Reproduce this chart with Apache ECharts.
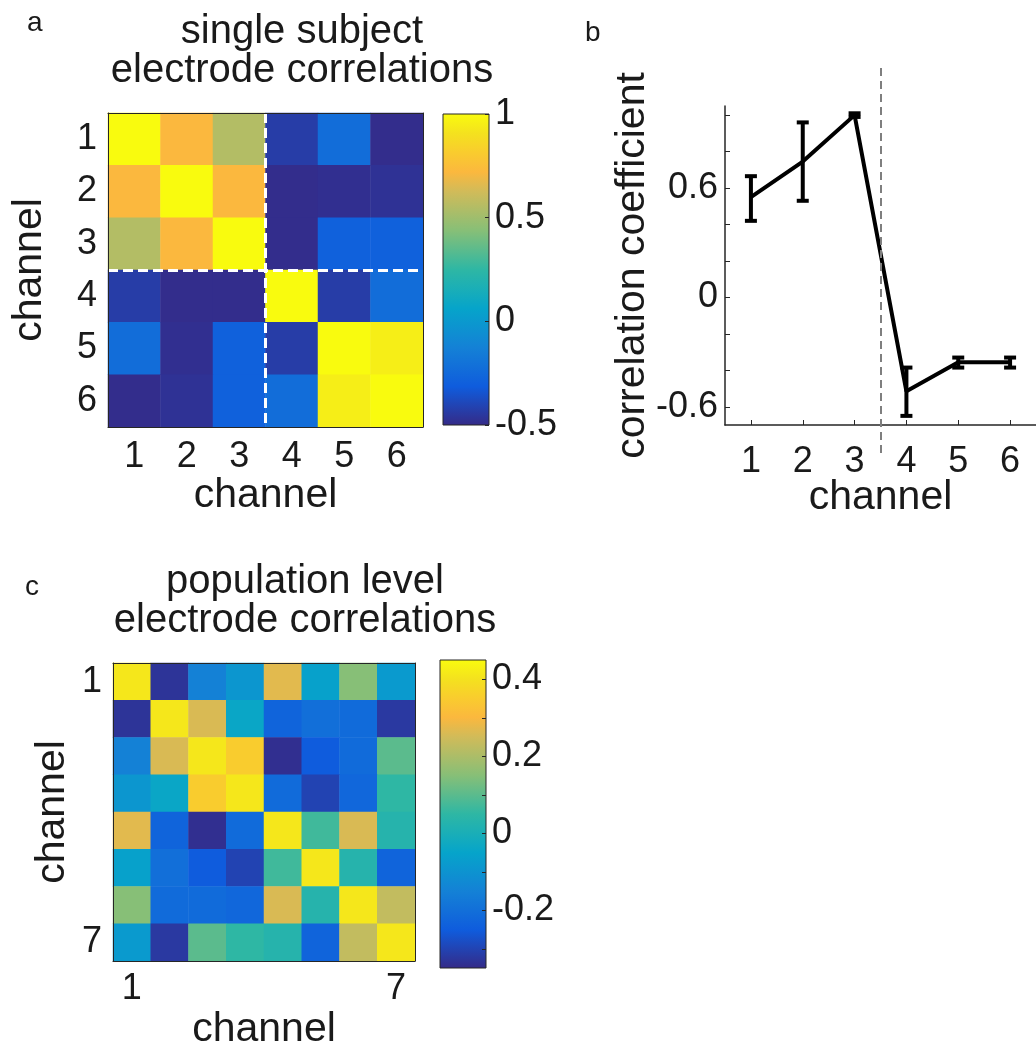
<!DOCTYPE html>
<html>
<head>
<meta charset="utf-8">
<title>electrode correlations</title>
<script src="https://cdn.jsdelivr.net/npm/echarts@6/dist/echarts.min.js"></script>
<style>
  html, body { margin: 0; padding: 0; background: #fff; }
  #main { width: 1036px; height: 1051px; }
</style>
</head>
<body>
<div id="main"></div>
<script>
// channels
var chan6 = ['1', '2', '3', '4', '5', '6'];
var chan8 = ['1', '2', '3', '4', '5', '6', '7', '8'];
var chan8Labels = ['1', '', '', '', '', '', '', '7'];

// a: single subject correlation matrix (row 1 on top)
var singleCorr = [
  [1.00, 0.72, 0.55, -0.43, -0.23, -0.49],
  [0.72, 1.00, 0.72, -0.49, -0.48, -0.47],
  [0.55, 0.72, 1.00, -0.49, -0.29, -0.29],
  [-0.43, -0.49, -0.49, 1.00, -0.43, -0.23],
  [-0.23, -0.48, -0.29, -0.43, 1.00, 0.95],
  [-0.49, -0.47, -0.29, -0.23, 0.95, 1.00]
];
var groupSplit = [3.5];

// b: mean correlation per channel with error bars
var bChannels = [1, 2, 3, 4, 5, 6];
var bMean = [0.55, 0.745, 1.00, -0.515, -0.356, -0.356];
var bLow = [0.42, 0.53, 0.99, -0.65, -0.385, -0.385];
var bHigh = [0.665, 0.96, 1.01, -0.385, -0.33, -0.33];
var bYTicks = [-0.6, -0.4, -0.2, 0, 0.2, 0.4, 0.6, 0.8, 1.0];
var bYLabels = [-0.6, 0, 0.6];

// c: population level correlation matrix
var popCorr = [
  [0.41, -0.33, -0.15, -0.09, 0.27, -0.06, 0.15, -0.08],
  [-0.33, 0.41, 0.26, -0.04, -0.23, -0.20, -0.21, -0.32],
  [-0.15, 0.26, 0.41, 0.35, -0.34, -0.25, -0.21, 0.10],
  [-0.09, -0.04, 0.35, 0.41, -0.21, -0.30, -0.22, 0.05],
  [0.27, -0.23, -0.34, -0.21, 0.41, 0.07, 0.26, 0.03],
  [-0.06, -0.20, -0.25, -0.30, 0.07, 0.41, 0.03, -0.23],
  [0.15, -0.21, -0.21, -0.22, 0.26, 0.03, 0.41, 0.23],
  [-0.08, -0.32, 0.10, 0.05, 0.03, -0.23, 0.23, 0.41]
];

// colorbars
var barATicks = [-0.5, 0, 0.5, 1];
var barCRange = [-0.35, 0.45];
var barCTicks = [-0.3, -0.2, -0.1, 0, 0.1, 0.2, 0.3, 0.4];
var barCLabels = [-0.2, 0, 0.2, 0.4];

// parula-like colormap, evenly spaced stops
var parula = ['#352a87', '#2243b2', '#0f5cdd', '#126fd9', '#1481d6', '#0d93d0', '#06a4ca', '#1aaeb7',
  '#2eb7a4', '#5bbb8d', '#87bf77', '#acbd68', '#d1bb59', '#fbb83e', '#f9cc2e', '#f4e21e', '#f9fb0e'];

var FONT = "'Liberation Sans', Arial, sans-serif";
var INK = '#1a1a1a';
var EDGE = '#262626';

function toCells(m) {
  var out = [];
  m.forEach(function (row, r) {
    row.forEach(function (v, c) { out.push([c, r, v]); });
  });
  return out;
}

function barGradient() {
  return new echarts.graphic.LinearGradient(0, 1, 0, 0, parula.map(function (c, i) {
    return { offset: i / (parula.length - 1), color: c };
  }));
}

function labelStyle(extra) {
  var s = { color: INK, fontFamily: FONT, fontSize: 36 };
  for (var k in extra) s[k] = extra[k];
  return s;
}

var lineStyleEdge = { show: true, onZero: false, lineStyle: { color: EDGE, width: 1 } };
var nameStyle = { color: INK, fontFamily: FONT, fontSize: 41 };
var letterStyle = { color: INK, fontFamily: FONT, fontSize: 28, fontWeight: 'normal' };
var titleStyle = { color: INK, fontFamily: FONT, fontSize: 40, fontWeight: 'normal', lineHeight: 39 };

// category axis for a heatmap box (ticks inside on all sides)
function catAxis(grid, cats, pos, showLabel, extra) {
  var ax = {
    type: 'category', gridIndex: grid, data: cats, position: pos, z: 5,
    axisLine: lineStyleEdge,
    axisTick: { inside: true, length: 4, alignWithLabel: true, lineStyle: { color: EDGE, width: 1 } },
    axisLabel: labelStyle({ show: showLabel }),
    splitLine: { show: false }, splitArea: { show: false }
  };
  for (var k in extra) ax[k] = extra[k];
  return ax;
}

function hiddenValue(grid, min, max, extra) {
  var ax = { type: 'value', gridIndex: grid, min: min, max: max, show: false };
  for (var k in extra) ax[k] = extra[k];
  return ax;
}

function init() {
  var chart = echarts.init(document.getElementById('main'), null, { renderer: 'canvas' });

  var option = {
    backgroundColor: '#fff',
    animation: false,
    title: [
      { text: 'a', left: 22, top: 4, textStyle: letterStyle },
      { text: 'b', left: 580, top: 14, textStyle: letterStyle },
      { text: 'c', left: 20, top: 568, textStyle: letterStyle },
      { text: 'single subject\nelectrode correlations', left: 297, top: 7, textAlign: 'center', textStyle: titleStyle },
      { text: 'population level\nelectrode correlations', left: 300, top: 557, textAlign: 'center', textStyle: titleStyle }
    ],
    grid: [
      { left: 108, top: 113, width: 315, height: 314 },
      { left: 108, top: 113, width: 315, height: 314 },
      { left: 443, top: 114, width: 46, height: 311, show: true, borderColor: EDGE, borderWidth: 1, backgroundColor: barGradient() },
      { left: 725, top: 106, width: 318, height: 319 },
      { left: 725, top: 65, width: 318, height: 388 },
      { left: 113, top: 663, width: 302, height: 305 },
      { left: 440, top: 660, width: 46, height: 308, show: true, borderColor: EDGE, borderWidth: 1, backgroundColor: barGradient() }
    ],
    xAxis: [
      catAxis(0, chan6, 'bottom', true, {
        name: 'channel', nameLocation: 'middle', nameGap: 48, nameTextStyle: nameStyle, nameMoveOverlap: false,
        axisLabel: labelStyle({ margin: 12 })
      }),
      catAxis(0, chan6, 'top', false),
      hiddenValue(1, 0.5, chan6.length + 0.5),
      hiddenValue(2, 0, 1),
      {
        type: 'value', gridIndex: 3, min: 0.5, max: 6.5, position: 'bottom',
        name: 'channel', nameLocation: 'middle', nameGap: 52, nameTextStyle: nameStyle, nameMoveOverlap: false,
        axisLine: { show: true, onZero: false, lineStyle: { color: EDGE, width: 1.5 } },
        axisTick: { inside: true, length: 5, customValues: bChannels, lineStyle: { color: EDGE, width: 1 } },
        axisLabel: labelStyle({ margin: 19, customValues: bChannels }),
        splitLine: { show: false }
      },
      hiddenValue(4, 0.5, 6.5),
      catAxis(5, chan8, 'bottom', true, {
        name: 'channel', nameLocation: 'middle', nameGap: 48, nameTextStyle: nameStyle, nameMoveOverlap: false,
        axisLabel: labelStyle({ margin: 10, interval: 0, formatter: function (v, i) { return chan8Labels[i]; } })
      }),
      catAxis(5, chan8, 'top', false),
      hiddenValue(6, 0, 1)
    ],
    yAxis: [
      catAxis(0, chan6, 'left', true, {
        inverse: true, name: 'channel', nameLocation: 'middle', nameGap: 58, nameRotate: 90,
        nameTextStyle: nameStyle, nameMoveOverlap: false,
        axisLabel: labelStyle({ margin: 11 })
      }),
      catAxis(0, chan6, 'right', false, { inverse: true }),
      hiddenValue(1, 0.5, chan6.length + 0.5, { inverse: true }),
      {
        type: 'value', gridIndex: 2, min: barATicks[0], max: barATicks[barATicks.length - 1], interval: 0.5, position: 'right',
        axisLine: { show: false, onZero: false },
        axisTick: { inside: true, length: 4, lineStyle: { color: EDGE, width: 1 } },
        axisLabel: labelStyle({ margin: 6 }),
        splitLine: { show: false }
      },
      {
        type: 'value', gridIndex: 3, min: -0.7, max: 1.05, position: 'left',
        name: 'correlation coefficient', nameLocation: 'middle', nameGap: 72, nameRotate: 90,
        nameTextStyle: nameStyle, nameMoveOverlap: false,
        axisLine: { show: true, onZero: false, lineStyle: { color: EDGE, width: 1.5 } },
        axisTick: { inside: true, length: 5, customValues: bYTicks, lineStyle: { color: EDGE, width: 1 } },
        axisLabel: labelStyle({ margin: 7, customValues: bYLabels }),
        splitLine: { show: false }
      },
      hiddenValue(4, 0, 1),
      catAxis(5, chan8, 'left', true, {
        inverse: true, name: 'channel', nameLocation: 'middle', nameGap: 40, nameRotate: 90,
        nameTextStyle: nameStyle, nameMoveOverlap: false,
        axisLabel: labelStyle({ margin: 11, interval: 0, formatter: function (v, i) { return chan8Labels[i]; } })
      }),
      catAxis(5, chan8, 'right', false, { inverse: true }),
      {
        type: 'value', gridIndex: 6, min: barCRange[0], max: barCRange[1], position: 'right',
        axisLine: { show: false, onZero: false },
        axisTick: { inside: true, length: 4, customValues: barCTicks, lineStyle: { color: EDGE, width: 1 } },
        axisLabel: labelStyle({ margin: 6, customValues: barCLabels }),
        splitLine: { show: false }
      }
    ],
    visualMap: [
      { type: 'continuous', show: false, seriesIndex: 0, min: barATicks[0], max: barATicks[barATicks.length - 1], inRange: { color: parula } },
      { type: 'continuous', show: false, seriesIndex: 5, min: barCRange[0], max: barCRange[1], inRange: { color: parula } }
    ],
    series: [
      {
        type: 'heatmap', xAxisIndex: 0, yAxisIndex: 0, data: toCells(singleCorr),
        label: { show: false }, emphasis: { disabled: true }, progressive: 0
      },
      {
        type: 'line', xAxisIndex: 2, yAxisIndex: 2, data: [], silent: true,
        markLine: {
          silent: true, symbol: 'none', label: { show: false },
          lineStyle: { color: '#fff', type: [10, 5], width: 3 },
          data: [{ xAxis: groupSplit[0] }, { yAxis: groupSplit[0] }]
        }
      },
      {
        type: 'line', xAxisIndex: 4, yAxisIndex: 4, z: 3, symbol: 'none',
        data: bChannels.map(function (c, i) { return [c, bMean[i]]; }),
        lineStyle: { color: '#000', width: 4 }
      },
      {
        type: 'custom', xAxisIndex: 4, yAxisIndex: 4, z: 4,
        data: bChannels.map(function (c, i) { return [c, bLow[i], bHigh[i]]; }),
        encode: { x: 0, y: [1, 2] },
        renderItem: function (params, api) {
          var lo = api.coord([api.value(0), api.value(1)]);
          var hi = api.coord([api.value(0), api.value(2)]);
          var hw = 6;
          var st = { stroke: '#000', lineWidth: 4 };
          return {
            type: 'group',
            children: [
              { type: 'line', shape: { x1: lo[0], y1: lo[1], x2: hi[0], y2: hi[1] }, style: st },
              { type: 'line', shape: { x1: lo[0] - hw, y1: lo[1], x2: lo[0] + hw, y2: lo[1] }, style: st },
              { type: 'line', shape: { x1: hi[0] - hw, y1: hi[1], x2: hi[0] + hw, y2: hi[1] }, style: st }
            ]
          };
        }
      },
      {
        type: 'line', xAxisIndex: 5, yAxisIndex: 5, data: [], silent: true,
        markLine: {
          silent: true, symbol: 'none', label: { show: false },
          lineStyle: { color: '#7f7f7f', type: [8, 5], width: 2 },
          data: [{ xAxis: groupSplit[0] }]
        }
      },
      {
        type: 'heatmap', xAxisIndex: 6, yAxisIndex: 6, data: toCells(popCorr),
        label: { show: false }, emphasis: { disabled: true }, progressive: 0
      }
    ]
  };

  chart.setOption(option);
}

init();
</script>
</body>
</html>
